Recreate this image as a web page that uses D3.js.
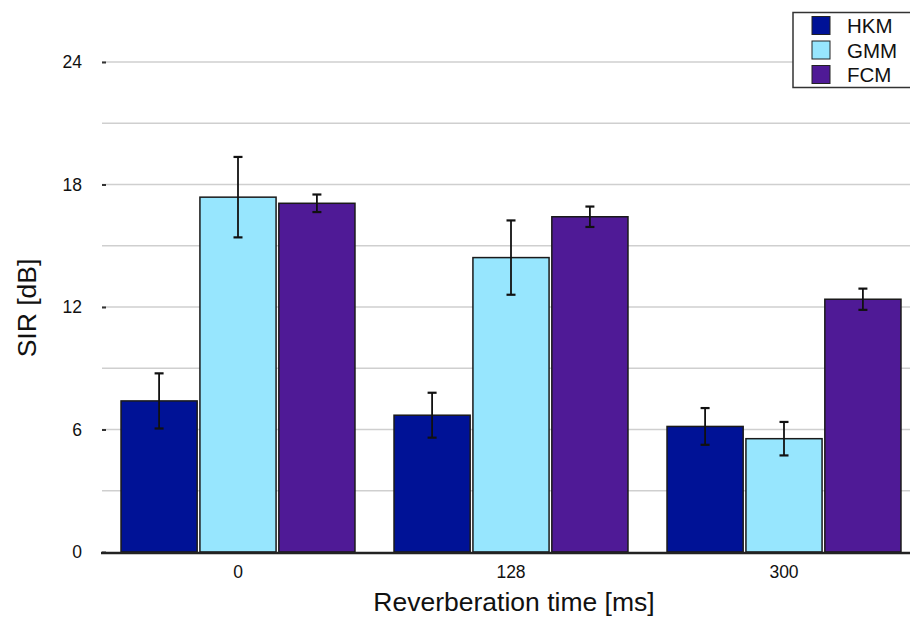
<!DOCTYPE html>
<html><head><meta charset="utf-8">
<script src="https://cdn.jsdelivr.net/npm/d3@7"></script>
<style>body{margin:0;background:#fff}svg{display:block;font-family:"Liberation Sans",Arial,Helvetica,sans-serif}</style>
</head><body><svg id="c" width="910" height="621"></svg>
<script>
const categories = ["0", "128", "300"];
const seriesNames = ["HKM", "GMM", "FCM"];
const seriesColors = ["#001296", "#97E6FE", "#4F1A96"];
const hkmValues = [7.4, 6.7, 6.15];
const gmmValues = [17.38, 14.42, 5.55];
const fcmValues = [17.08, 16.42, 12.38];
const hkmErr = [1.35, 1.1, 0.9];
const gmmErr = [1.97, 1.82, 0.82];
const fcmErr = [0.43, 0.5, 0.52];
const yTicks = [0, 6, 12, 18, 24];
const yGrid = [3, 6, 9, 12, 15, 18, 21, 24];

const values = [hkmValues, gmmValues, fcmValues];
const errs = [hkmErr, gmmErr, fcmErr];

const svg = d3.select("#c");
const x0 = d3.scaleBand().domain(categories).range([101.5, 920.5]).paddingInner(0.143).paddingOuter(0.0715);
const x1 = d3.scaleBand().domain(seriesNames).range([0, x0.bandwidth()]).paddingInner(0.035);
const y = d3.scaleLinear().domain([0, 24]).range([552, 62]);

// grid
svg.append("g").selectAll("line").data(yGrid).join("line")
  .attr("x1", 102).attr("x2", 910).attr("y1", d => y(d)).attr("y2", d => y(d))
  .attr("stroke", "#cfcfcf").attr("stroke-width", 1.5);

// y axis ticks
const yAxis = d3.axisLeft(y).tickValues(yTicks).tickSize(4).tickPadding(20);
const ya = svg.append("g").attr("transform", "translate(106,0)").call(yAxis);
ya.select(".domain").remove();
ya.selectAll(".tick line").attr("stroke", "#333").attr("stroke-width", 2);
ya.selectAll(".tick text").attr("font-size", 17.5).attr("fill", "#111").attr("font-family", "Liberation Sans,Arial,sans-serif");

// bars
const groups = svg.append("g").selectAll("g").data(categories).join("g")
  .attr("transform", d => `translate(${x0(d)},0)`);
groups.each(function(cat, ci) {
  const g = d3.select(this);
  seriesNames.forEach((s, si) => {
    const v = values[si][ci], e = errs[si][ci];
    const bx = x1(s), bw = x1.bandwidth();
    g.append("rect").attr("x", bx).attr("y", y(v)).attr("width", bw).attr("height", y(0) - y(v))
      .attr("fill", seriesColors[si]).attr("stroke", "#1a1a1a").attr("stroke-width", 1.5);
    const cx = bx + bw / 2;
    g.append("line").attr("x1", cx).attr("x2", cx).attr("y1", y(v + e)).attr("y2", y(v - e))
      .attr("stroke", "#111").attr("stroke-width", 1.8);
    [v + e, v - e].forEach(t => g.append("line").attr("x1", cx - 4.5).attr("x2", cx + 4.5)
      .attr("y1", y(t)).attr("y2", y(t)).attr("stroke", "#111").attr("stroke-width", 2.2));
  });
});

// x axis
svg.append("line").attr("x1", 101).attr("x2", 910).attr("y1", y(0)+1).attr("y2", y(0)+1)
  .attr("stroke", "#222").attr("stroke-width", 2.5);
const xa = svg.append("g").attr("transform", `translate(0,${y(0)})`)
  .call(d3.axisBottom(x0).tickSize(0).tickPadding(14));
xa.select(".domain").remove();
xa.selectAll(".tick text").attr("font-size", 17.5).attr("fill", "#111").attr("font-family", "Liberation Sans,Arial,sans-serif");

// axis titles
svg.append("text").attr("x", 514).attr("y", 611).attr("text-anchor", "middle")
  .attr("font-size", 26.5).attr("fill", "#111").text("Reverberation time [ms]");
svg.append("text").attr("transform", "translate(36,308) rotate(-90)").attr("text-anchor", "middle")
  .attr("font-size", 26.5).attr("fill", "#111").text("SIR [dB]");

// legend
const lg = svg.append("g");
lg.append("rect").attr("x", 793).attr("y", 12.5).attr("width", 130).attr("height", 75)
  .attr("fill", "#fff").attr("stroke", "#333").attr("stroke-width", 1.5);
seriesNames.forEach((s, i) => {
  lg.append("rect").attr("x", 812).attr("y", 16.5 + i * 24.5).attr("width", 18).attr("height", 18)
    .attr("fill", seriesColors[i]).attr("stroke", "#222").attr("stroke-width", 1);
  lg.append("text").attr("x", 847).attr("y", 33 + i * 24.5).attr("font-size", 20.5).attr("fill", "#111").text(s);
});
</script></body></html>
